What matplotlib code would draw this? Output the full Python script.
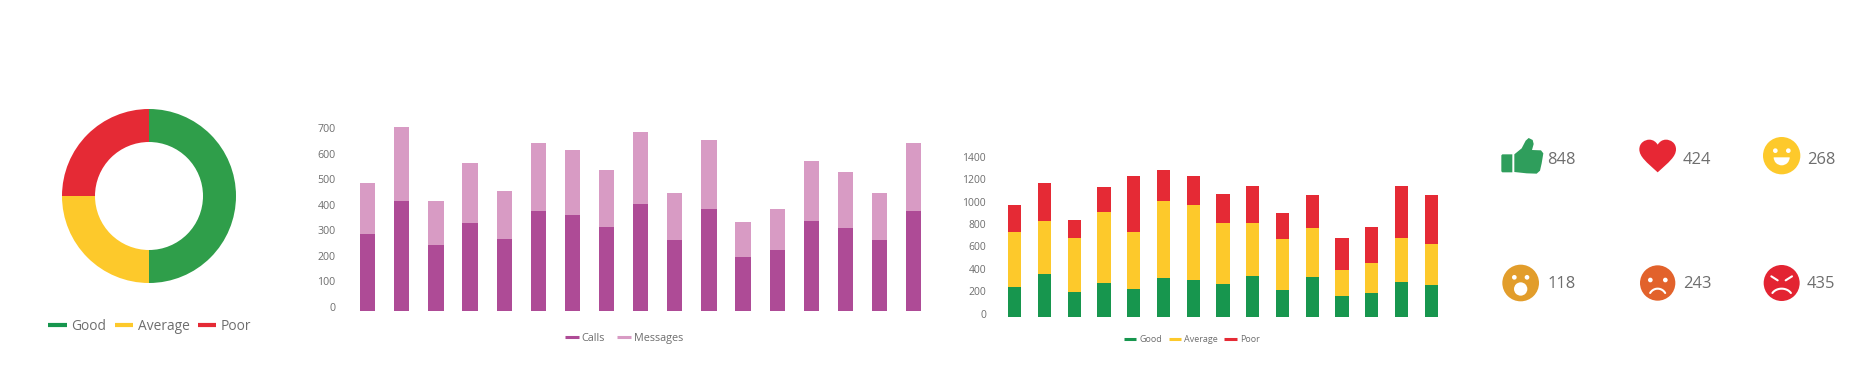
import matplotlib
matplotlib.use("Agg")
import matplotlib.pyplot as plt
import numpy as np
from matplotlib.lines import Line2D
from matplotlib.patches import Circle, Polygon, PathPatch, Wedge
from matplotlib.path import Path

plt.rcParams['font.family'] = ['Open Sans', 'DejaVu Sans']

W, H = 1863, 380
TEXT = '#6e6e6e'
GREEN, GREEN2, YELLOW, RED = '#2f9e4a', '#17964e', '#fdc92b', '#e52a35'
PURPLE, PINK = '#ae4b96', '#d89bc4'

# ---- data ----
rating_labels = ['Good', 'Average', 'Poor']
rating_share = [50, 25, 25]

calls = [284, 416, 242, 330, 266, 377, 361, 313, 403, 260, 385, 194, 223, 335, 309, 260, 377]
messages = [200, 291, 173, 235, 189, 264, 254, 222, 283, 186, 269, 140, 162, 237, 218, 186, 264]
contact_ticks = [0, 100, 200, 300, 400, 500, 600, 700]

good = [235, 351, 196, 276, 220, 318, 300, 262, 339, 214, 324, 158, 184, 279, 256]
average = [490, 478, 476, 634, 505, 690, 672, 547, 470, 455, 443, 231, 265, 393, 365]
poor = [247, 339, 160, 220, 506, 273, 259, 261, 327, 226, 288, 283, 321, 470, 434]
rating_ticks = [0, 200, 400, 600, 800, 1000, 1200, 1400]

reaction_counts = [848, 424, 268, 118, 243, 435]

fig = plt.figure(figsize=(W / 100, H / 100), dpi=100, facecolor='white')


def ax_px(left, top, right, bottom):
    return fig.add_axes([left / W, 1 - bottom / H, (right - left) / W, (bottom - top) / H])


def legend(handles, cx, cy, size, hl, pad, col):
    fig.legend(handles=handles, loc='center', bbox_to_anchor=(cx / W, 1 - cy / H),
               ncol=len(handles), frameon=False, fontsize=size, labelcolor=TEXT,
               handlelength=hl, handletextpad=pad, columnspacing=col, borderpad=0,
               borderaxespad=0)


def handles(labels, colors, lw):
    return [Line2D([], [], color=c, lw=lw, label=l, solid_capstyle='butt')
            for l, c in zip(labels, colors)]


def bar_axes(left, top, right, bottom, zero_px, px_per_unit, first_px, step_px, ticks, size):
    ax = ax_px(left, top, right, bottom)
    ax.set_ylim((zero_px - bottom) / px_per_unit, (zero_px - top) / px_per_unit)
    ax.set_xlim((left - first_px) / step_px, (right - first_px) / step_px)
    ax.set_yticks(ticks)
    ax.set_xticks([])
    ax.tick_params(axis='y', length=0, pad=4.3, labelsize=size, labelcolor=TEXT)
    for s in ax.spines.values():
        s.set_visible(False)
    ax.patch.set_alpha(0)
    return ax


# ---- donut ----
ax = ax_px(62, 109, 236, 283)
ax.pie(rating_share, colors=[GREEN, YELLOW, RED], startangle=90, counterclock=False,
       radius=1, wedgeprops=dict(width=1 - 54 / 87, linewidth=0))
ax.set_xlim(-1, 1)
ax.set_ylim(-1, 1)
legend(handles(rating_labels, [GREEN2, YELLOW, RED], 3), 150, 326.5, 9.9, 1.35, 0.33, 0.6)

# ---- calls / messages ----
ax = bar_axes(341.5, 120, 935, 311.33, 306.67, 0.2547, 367.7, 34.12, contact_ticks, 7.7)
x = np.arange(len(calls))
base = ax.get_ylim()[0]
ax.bar(x, np.array(calls) - base, 0.446, bottom=base, color=PURPLE, label='Calls')
ax.bar(x, messages, 0.446, bottom=calls, color=PINK, label='Messages')
legend(handles(['Calls', 'Messages'], [PURPLE, PINK], 2.2), 623.8, 338.5, 7.8, 1.32, 0.25, 1.05)

# ---- good / average / poor ----
ax = bar_axes(992, 140, 1445, 317, 313.67, 0.11213, 1014.7, 29.76, rating_ticks, 7.5)
x = np.arange(len(good))
base = ax.get_ylim()[0]
g, a, p = np.array(good), np.array(average), np.array(poor)
ax.bar(x, g - base, 0.447, bottom=base, color=GREEN2)
ax.bar(x, a, 0.447, bottom=g, color=YELLOW)
ax.bar(x, p, 0.447, bottom=g + a, color=RED)
legend(handles(rating_labels, [GREEN2, YELLOW, RED], 2.2), 1192, 340, 6.5, 1.35, 0.37, 0.7)

# ---- reaction icons (pixel overlay) ----
ov = fig.add_axes([0, 0, 1, 1])
ov.set_xlim(0, W)
ov.set_ylim(H, 0)
ov.axis('off')
ov.patch.set_alpha(0)


def P(zx, zy):
    return (1480 + zx / 3, 120 + zy / 3)


# thumb
TH = '#2f9e5c'
ov.add_patch(Polygon([P(*q) for q in [(67, 103), (97, 103), (97, 157), (67, 157), (64, 154), (64, 106)]],
                     fc=TH, ec='none'))
thumb = [(103, 103), (125, 85), (137, 62), (146, 54), (158, 60), (161, 72), (156, 90),
         (183, 91), (190, 100), (185, 130), (180, 152), (170, 161), (140, 160), (103, 156)]
ov.add_patch(Polygon([P(*q) for q in thumb], fc=TH, ec='none'))

# heart
v = [(533, 157), (500, 127), (478, 110), (478, 88), (478, 68), (495, 59), (508, 59),
     (520, 59), (528, 66), (533, 74), (538, 66), (546, 59), (558, 59), (571, 59),
     (588, 68), (588, 88), (588, 110), (566, 127), (533, 157)]
codes = [Path.MOVETO] + [Path.CURVE4] * 18
ov.add_patch(PathPatch(Path([P(*q) for q in v], codes), fc='#e72734', ec='none'))


def face(zx, zy, zr, color):
    ov.add_patch(Circle(P(zx, zy), zr / 3, fc=color, ec='none'))


def dot(zx, zy, zr):
    ov.add_patch(Circle(P(zx, zy), zr / 3, fc='white', ec='none'))


def stroke(points, lw=1.5):
    xs, ys = zip(*[P(*q) for q in points])
    ov.plot(xs, ys, color='white', lw=lw, solid_capstyle='round')


# smile
face(905, 107, 56, YELLOW)
dot(886, 92, 7)
dot(925, 92, 7)
ov.add_patch(Wedge(P(905, 112), 24 / 3, 0, 180, fc='white', ec='none'))

# surprised
face(122, 489, 55, '#e29d2b')
dot(103, 472, 7)
dot(141, 472, 7)
ov.add_patch(Circle(P(122, 507), 20 / 3, fc='white', ec='none'))

# sad
face(533, 489, 53, '#e2622b')
dot(511, 480, 7)
dot(556, 480, 7)
arc = np.radians(np.linspace(30, 150, 20))
stroke([(533 + 26 * np.cos(t), 532 - 26 * np.sin(t)) for t in arc])

# angry
face(905, 489, 54, '#e32432')
stroke([(874, 469), (893, 481)])
stroke([(936, 469), (917, 481)])
stroke([(905 + 32 * np.cos(t), 532 - 26 * np.sin(t)) for t in arc])

text_pos = [(1546.7, 160.5), (1682.7, 160.5), (1806.7, 160.5), (1547.7, 284.5), (1682.7, 284.5), (1806.7, 284.5)]
for n, (tx, ty) in zip(reaction_counts, text_pos):
    ov.text(tx, ty, str(n), fontsize=11.9, color=TEXT, ha='left', va='center')

fig.savefig('out.png', dpi=100, facecolor='white')
